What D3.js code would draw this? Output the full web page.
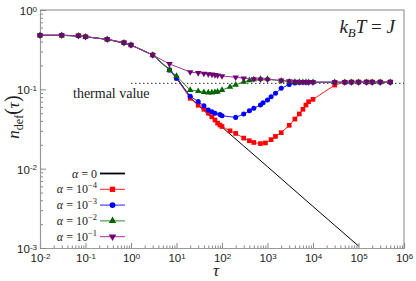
<!DOCTYPE html>
<html>
<head>
<meta charset="utf-8">
<script src="https://cdn.jsdelivr.net/npm/d3@7"></script>
<style>
	body { margin: 0; background: #fff; }
	text { fill: #222; }
</style>
</head>
<body>
<svg id="chart" width="416" height="281"></svg>
<script>
// tau values and n_def values
var tauBlack = [0.01, 0.03, 0.1, 0.3, 1, 3, 7, 10, 20, 30, 50, 100, 300, 1000, 3000, 1e4, 3e4, 1e5];
var nBlack   = [0.48, 0.48, 0.46, 0.427, 0.362, 0.271, 0.178, 0.143, 0.079, 0.063, 0.048, 0.0334, 0.0193, 0.0106, 0.0061, 0.00334, 0.00193, 0.00106];

var tauRed = [0.01, 0.03, 0.07, 0.1, 0.3, 0.7, 1, 3, 7, 10, 20, 30, 40, 50, 60, 70, 80, 90, 100, 150, 200, 300, 400, 500, 700, 900, 1200, 1500, 2000, 3000, 4000, 5000, 6000, 7000, 8000, 10000, 30000, 50000, 70000, 1e5, 1.5e5, 2e5, 3e5, 5e5];
var nRed   = [0.48, 0.48, 0.474, 0.46, 0.427, 0.387, 0.362, 0.271, 0.175, 0.138, 0.077, 0.063, 0.056, 0.05, 0.045, 0.041, 0.0375, 0.0355, 0.034, 0.030, 0.0278, 0.0243, 0.0225, 0.0214, 0.0207, 0.0211, 0.0232, 0.0255, 0.0284, 0.0352, 0.0422, 0.0489, 0.056, 0.0634, 0.0698, 0.0748, 0.113, 0.123, 0.124, 0.124, 0.124, 0.124, 0.124, 0.124];

var tauBlue = [0.01, 0.03, 0.07, 0.1, 0.3, 0.7, 1, 3, 7, 10, 20, 30, 40, 50, 60, 70, 90, 100, 200, 300, 400, 500, 700, 800, 1000, 1200, 1500, 2000, 3000, 4000, 5000, 6000, 7000, 8000, 10000, 30000, 50000, 70000, 1e5, 1.5e5, 2e5, 3e5, 5e5];
var nBlue   = [0.48, 0.48, 0.474, 0.46, 0.427, 0.387, 0.362, 0.271, 0.175, 0.138, 0.082, 0.07, 0.062, 0.055, 0.052, 0.05, 0.048, 0.0464, 0.0443, 0.0488, 0.0537, 0.0576, 0.0634, 0.0678, 0.0733, 0.0807, 0.089, 0.103, 0.115, 0.12, 0.122, 0.123, 0.123, 0.123, 0.123, 0.123, 0.123, 0.123, 0.123, 0.123, 0.123, 0.123, 0.123];

var tauGreen = [0.01, 0.03, 0.07, 0.1, 0.3, 0.7, 1, 3, 7, 10, 20, 30, 40, 50, 60, 70, 80, 100, 150, 200, 300, 400, 500, 700, 1000, 2000, 3000, 4000, 5000, 6000, 7000, 8000, 10000, 30000, 50000, 70000, 1e5, 1.5e5, 2e5, 3e5, 5e5];
var nGreen   = [0.48, 0.48, 0.474, 0.46, 0.427, 0.387, 0.362, 0.271, 0.175, 0.147, 0.098, 0.095, 0.092, 0.091, 0.091, 0.092, 0.093, 0.098, 0.107, 0.114, 0.124, 0.13, 0.133, 0.135, 0.135, 0.128, 0.125, 0.124, 0.124, 0.123, 0.123, 0.123, 0.123, 0.123, 0.123, 0.123, 0.123, 0.123, 0.123, 0.123, 0.123];

var tauPurple = [0.01, 0.03, 0.07, 0.1, 0.3, 0.7, 1, 3, 7, 20, 30, 40, 50, 60, 70, 80, 100, 200, 300, 500, 700, 1000, 2000, 3000, 4000, 5000, 6000, 7000, 8000, 10000, 30000, 50000, 70000, 1e5, 1.5e5, 2e5, 3e5, 5e5];
var nPurple   = [0.48, 0.48, 0.474, 0.46, 0.427, 0.387, 0.362, 0.271, 0.209, 0.165, 0.161, 0.158, 0.156, 0.154, 0.152, 0.15, 0.147, 0.142, 0.138, 0.135, 0.134, 0.133, 0.13, 0.127, 0.125, 0.124, 0.124, 0.124, 0.123, 0.123, 0.123, 0.123, 0.123, 0.123, 0.123, 0.123, 0.123, 0.123];

var thermalValue = 0.119;
var thermalStart = 1;

var xTickExps = [-2, -1, 0, 1, 2, 3, 4, 5, 6];
var yTickExps = [-3, -2, -1, 0];

var legendExps = [null, "\u22124", "\u22123", "\u22122", "\u22121"];

var svg = d3.select("#chart");

var x = d3.scaleLog().domain([1e-2, 1e6]).range([40, 404]);
var y = d3.scaleLog().domain([1e-3, 1]).range([248, 10]);

// minor tick positions
function minors(lo, hi) {
	var out = [];
	for (var e = lo; e < hi; e++) {
		for (var k = 2; k < 10; k++) out.push(k * Math.pow(10, e));
	}
	return out;
}

// frame (top and right)
svg.append("path")
	.attr("d", "M" + x.range()[0] + "," + y.range()[1] + "H" + x.range()[1] + "V" + y.range()[0])
	.attr("fill", "none")
	.attr("stroke", "#b0b0b0")
	.attr("stroke-width", 1.5);

// minor ticks
svg.append("g")
	.attr("transform", "translate(0," + y.range()[0] + ")")
	.call(d3.axisBottom(x).tickValues(minors(-2, 6)).tickSize(-2.5).tickFormat(""))
	.call(function(g) { g.select(".domain").remove(); })
	.selectAll("line").attr("stroke", "#888");

svg.append("g")
	.attr("transform", "translate(" + x.range()[0] + ",0)")
	.call(d3.axisLeft(y).tickValues(minors(-3, 0)).tickSize(-3).tickFormat(""))
	.call(function(g) { g.select(".domain").remove(); })
	.selectAll("line").attr("stroke", "#888");

// major ticks + labels
var xAxis = svg.append("g")
	.attr("transform", "translate(0," + y.range()[0] + ")")
	.call(d3.axisBottom(x)
		.tickValues(xTickExps.map(function(e) { return Math.pow(10, e); }))
		.tickSize(-5)
		.tickPadding(6));

var yAxis = svg.append("g")
	.attr("transform", "translate(" + x.range()[0] + ",0)")
	.call(d3.axisLeft(y)
		.tickValues(yTickExps.map(function(e) { return Math.pow(10, e); }))
		.tickSize(-6)
		.tickPadding(3));

[xAxis, yAxis].forEach(function(ax) {
	ax.select(".domain").attr("stroke", "#999").attr("stroke-width", 1.2);
	ax.selectAll(".tick line").attr("stroke", "#888");
	ax.selectAll(".tick text").each(function(d) {
		var t = d3.select(this);
		var e = Math.round(Math.log10(d));
		t.text(null)
			.attr("font-family", "'Liberation Sans', Arial, sans-serif")
			.attr("font-size", 11.5)
			.attr("fill", "#222");
		t.append("tspan").text("10");
		t.append("tspan")
			.attr("dy", "-0.45em")
			.attr("font-size", 8)
			.text(e < 0 ? "-" + (-e) : String(e));
	});
});
yAxis.selectAll(".tick text").attr("dy", "0.4em");

// thermal value
svg.append("line")
	.attr("x1", x(thermalStart)).attr("x2", x.range()[1])
	.attr("y1", y(thermalValue)).attr("y2", y(thermalValue))
	.attr("stroke", "#333")
	.attr("stroke-width", 1)
	.attr("stroke-dasharray", "1.5,2.5");

svg.append("text")
	.attr("x", 73).attr("y", 98)
	.attr("font-family", "'Liberation Serif', serif")
	.attr("font-size", 14)
	.text("thermal value");

var series = [
	{ tau: tauBlack, n: nBlack, line: "#000", fill: "#000", symbol: null },
	{ tau: tauRed, n: nRed, line: "#ff2020", fill: "#ff0000", symbol: d3.symbolSquare, size: 22, rot: 0 },
	{ tau: tauBlue, n: nBlue, line: "#2020ff", fill: "#0000ff", symbol: d3.symbolCircle, size: 20, rot: 0 },
	{ tau: tauGreen, n: nGreen, line: "#2a8a2a", fill: "#006400", symbol: d3.symbolTriangle, size: 18, rot: 0 },
	{ tau: tauPurple, n: nPurple, line: "#a030a0", fill: "#700070", symbol: d3.symbolTriangle, size: 18, rot: 180 }
];

var line = d3.line()
	.x(function(d) { return x(d[0]); })
	.y(function(d) { return y(d[1]); });

series.forEach(function(s) {
	var pts = d3.zip(s.tau, s.n);
	var g = svg.append("g");
	g.append("path")
		.datum(pts)
		.attr("d", line)
		.attr("fill", "none")
		.attr("stroke", s.line)
		.attr("stroke-width", 1);
	if (s.symbol) {
		g.selectAll("path.mk")
			.data(pts)
			.enter()
			.append("path")
			.attr("class", "mk")
			.attr("d", d3.symbol().type(s.symbol).size(s.size))
			.attr("transform", function(d) {
				return "translate(" + x(d[0]) + "," + y(d[1]) + ") rotate(" + s.rot + ")";
			})
			.attr("fill", s.fill);
	}
});

// legend
var legend = svg.append("g")
	.attr("font-family", "'Liberation Serif', serif")
	.attr("font-size", 12);

series.forEach(function(s, i) {
	var yy = 173.5 + i * 15.8;
	var row = legend.append("g").attr("transform", "translate(0," + yy + ")");
	row.append("line")
		.attr("x1", 100).attr("x2", 125)
		.attr("stroke", s.symbol ? s.line : "#000")
		.attr("stroke-width", s.symbol ? 1 : 1.8);
	if (s.symbol) {
		row.append("path")
			.attr("d", d3.symbol().type(s.symbol).size(s.size + 6))
			.attr("transform", "translate(112.5,0) rotate(" + s.rot + ")")
			.attr("fill", s.fill);
	}
	var t = row.append("text")
		.attr("x", 97).attr("y", 4)
		.attr("text-anchor", "end");
	t.append("tspan").attr("font-style", "italic").text("\u03b1");
	t.append("tspan").text(" = ");
	if (legendExps[i] === null) {
		t.append("tspan").text("0");
	} else {
		t.append("tspan").text("10");
		t.append("tspan").attr("dy", -5).attr("font-size", 8.5).text(legendExps[i]);
	}
});

// axis titles
svg.append("text")
	.attr("x", 216).attr("y", 276)
	.attr("text-anchor", "middle")
	.attr("font-family", "'Liberation Serif', serif")
	.attr("font-style", "italic")
	.attr("font-size", 17)
	.text("\u03c4");

var yl = svg.append("text")
	.attr("transform", "translate(19,117) rotate(-90)")
	.attr("text-anchor", "middle")
	.attr("font-family", "'Liberation Serif', serif")
	.attr("font-size", 17);
yl.append("tspan").attr("font-style", "italic").text("n");
yl.append("tspan").attr("dy", 4).attr("font-size", 12).text("def");
yl.append("tspan").attr("dy", -4).attr("font-size", 20).text("(");
yl.append("tspan").attr("font-style", "italic").text("\u03c4");
yl.append("tspan").attr("font-size", 20).text(")");

var kt = svg.append("text")
	.attr("x", 395).attr("y", 33)
	.attr("text-anchor", "end")
	.attr("font-family", "'Liberation Serif', serif")
	.attr("font-size", 19);
kt.append("tspan").attr("font-style", "italic").text("k");
kt.append("tspan").attr("font-style", "italic").attr("dy", 4).attr("font-size", 13).text("B");
kt.append("tspan").attr("font-style", "italic").attr("dy", -4).text("T");
kt.append("tspan").text(" = ");
kt.append("tspan").attr("font-style", "italic").text("J");
</script>
</body>
</html>
